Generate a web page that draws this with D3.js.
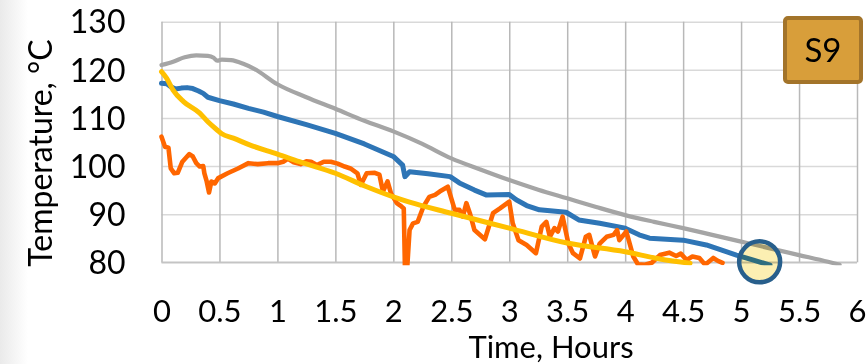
<!DOCTYPE html>
<html>
<head>
<meta charset="utf-8">
<script src="https://cdn.jsdelivr.net/npm/d3@7"></script>
<style>
  html, body { margin: 0; padding: 0; background: #fff; }
  svg { display: block; font-family: Lato, "Open Sans", sans-serif; }
</style>
</head>
<body>
<svg id="chart" width="866" height="364"></svg>
<script>
// hours vs temperature (°C)
const grayPts = [
  [0, 121], [0.1, 121.7], [0.2, 122.6], [0.3, 123], [0.4, 122.9], [0.45, 122.5],
  [0.48, 121.9], [0.52, 122.1], [0.6, 122], [0.7, 121.3], [0.8, 120.2], [1.0, 117],
  [1.25, 114.3], [1.5, 111.9], [1.75, 109.4], [2.0, 107.2], [2.25, 104.6], [2.5, 101.6],
  [2.75, 99.3], [3.0, 97.1], [3.25, 95.1], [3.5, 93.3], [3.75, 91.5], [4.0, 89.8],
  [4.25, 88.4], [4.5, 87.1], [4.75, 85.7], [5.0, 84.3], [5.25, 82.9], [5.5, 81.5],
  [5.75, 80.1], [5.85, 79.5]
];
const bluePts = [
  [0, 117.2], [0.045, 117.1], [0.08, 116.5], [0.12, 116], [0.17, 116.2], [0.22, 116.3],
  [0.27, 116.1], [0.32, 115.6], [0.36, 115.1], [0.4, 114.3], [0.5, 113.6], [0.62, 112.9],
  [0.75, 112], [0.88, 111.2], [1.0, 110.3], [1.25, 108.6], [1.5, 106.8], [1.75, 104.6],
  [2.0, 102], [2.08, 100.2], [2.1, 97.8], [2.14, 98.8], [2.3, 98.4], [2.49, 97.8],
  [2.57, 96.5], [2.7, 95], [2.8, 94], [3.0, 94.1], [3.06, 93], [3.15, 91.8], [3.26, 90.9],
  [3.49, 90.4], [3.6, 88.8], [3.78, 88.1], [4.0, 87.1], [4.12, 85.7], [4.21, 85],
  [4.5, 84.6], [4.7, 83.6], [4.96, 81.5], [5.1, 80.5], [5.25, 79.4]
];
const orangePts = [
  [0, 106.1], [0.03, 104], [0.06, 103.8], [0.08, 99.5], [0.11, 98.5], [0.14, 98.6],
  [0.18, 100.9], [0.24, 102.5], [0.27, 102], [0.3, 100.6], [0.33, 99.9], [0.36, 100],
  [0.37, 98.5], [0.39, 96.8], [0.41, 94.5], [0.43, 96.8], [0.46, 96.4], [0.49, 97.5],
  [0.57, 98.5], [0.66, 99.5], [0.75, 100.6], [0.83, 100.4], [0.92, 100.6], [1.0, 100.6],
  [1.05, 100.9], [1.09, 101.5], [1.14, 100.8], [1.2, 100.4], [1.25, 101], [1.29, 100.9],
  [1.34, 100.2], [1.4, 100.9], [1.46, 100.9], [1.52, 100.5], [1.58, 99.9], [1.63, 99.5],
  [1.69, 98.5], [1.72, 96.1], [1.77, 98.5], [1.84, 98.6], [1.88, 98.2], [1.91, 94.7],
  [1.95, 96.8], [1.98, 94.3], [2.03, 92.3], [2.07, 91.6], [2.09, 91.2], [2.1, 79],
  [2.12, 79], [2.14, 86.7], [2.17, 88.1], [2.21, 88.4], [2.26, 91.6], [2.31, 93.6],
  [2.36, 94], [2.4, 94.7], [2.47, 95.7], [2.5, 93.3], [2.53, 90.9], [2.57, 90.9],
  [2.6, 89.5], [2.63, 92.3], [2.66, 90.2], [2.7, 86.7], [2.79, 84.8], [2.86, 90.2],
  [2.92, 91.2], [3.0, 92.6], [3.03, 88.1], [3.08, 84.6], [3.15, 83.6], [3.23, 81.9],
  [3.28, 87.4], [3.32, 88.4], [3.35, 85.3], [3.39, 87.1], [3.42, 86.4], [3.46, 89.5],
  [3.51, 83.9], [3.55, 81.9], [3.61, 80.8], [3.66, 85.3], [3.69, 85.7], [3.74, 81.2],
  [3.78, 83.9], [3.84, 85.3], [3.9, 85.7], [3.93, 86.7], [3.95, 84.6], [4.01, 86.4],
  [4.07, 81.2], [4.11, 79.6], [4.17, 79.5], [4.23, 79.9], [4.3, 81.5], [4.38, 82],
  [4.44, 81.3], [4.48, 81.8], [4.53, 80.5], [4.58, 81.2], [4.64, 80.9], [4.69, 79.5],
  [4.76, 80.9], [4.8, 80.3], [4.84, 79.9]
];
const yellowPts = [
  [0, 119.6], [0.045, 118.2], [0.1, 115.8], [0.19, 113.4], [0.33, 111], [0.4, 109.2],
  [0.48, 107.5], [0.52, 106.7], [0.62, 105.8], [0.76, 104.4], [1.0, 102.5], [1.19, 100.9],
  [1.5, 98.5], [1.77, 95.7], [2.0, 93.6], [2.14, 92.5], [2.5, 90.2], [3.0, 87.1],
  [3.5, 84], [4.0, 82.2], [4.3, 80.7], [4.56, 79.8]
];

const xTicks = d3.range(0, 6.01, 0.5);
const yTicks = [80, 90, 100, 110, 120, 130];
const highlight = [5.16, 80.1];
const badgeText = 'S9';

const X0 = 161.5, X1 = 857, Y0 = 262.3, Y1 = 21.7;

const svg = d3.select('#chart');

// faint grey edge on the left, like the slide behind the chart
const grad = svg.append('defs').append('linearGradient').attr('id', 'edge');
grad.append('stop').attr('offset', '0%').attr('stop-color', '#eaeaea');
grad.append('stop').attr('offset', '100%').attr('stop-color', '#ffffff');
svg.append('rect').attr('x', 0).attr('y', 0).attr('width', 28).attr('height', 364)
  .attr('fill', 'url(#edge)');

svg.select('defs').append('clipPath').attr('id', 'plot')
  .append('rect').attr('x', X0 - 3).attr('y', Y1 - 3)
  .attr('width', X1 - X0 + 6).attr('height', Y0 - Y1 + 6);

const x = d3.scaleLinear().domain([0, 6]).range([X0, X1]);
const y = d3.scaleLinear().domain([80, 130]).range([Y0, Y1]);

// horizontal grid
svg.append('g')
  .attr('transform', `translate(${X0},0)`)
  .call(d3.axisLeft(y).tickValues(yTicks).tickSize(-(X1 - X0)).tickFormat(''))
  .call(g => g.select('.domain').remove())
  .call(g => g.selectAll('.tick line').attr('stroke', '#d9d9d9').attr('stroke-width', 1.5));

// vertical grid
svg.append('g')
  .attr('transform', `translate(0,${Y0})`)
  .call(d3.axisBottom(x).tickValues(xTicks).tickSize(-(Y0 - Y1)).tickFormat(''))
  .call(g => g.select('.domain').remove())
  .call(g => g.selectAll('.tick line').attr('stroke', '#b8b8b8').attr('stroke-width', 1.5));

// bottom axis line
svg.append('line')
  .attr('x1', X0).attr('x2', X1).attr('y1', Y0).attr('y2', Y0)
  .attr('stroke', '#c4c4c4').attr('stroke-width', 1.8);

// tick labels
svg.append('g')
  .attr('transform', `translate(0,${Y0})`)
  .call(d3.axisBottom(x).tickValues(xTicks).tickSize(0).tickPadding(0)
    .tickFormat(d => d3.format('~g')(d)))
  .call(g => g.select('.domain').remove())
  .call(g => g.selectAll('text').attr('font-size', 31).attr('font-family', 'Lato')
    .attr('fill', '#000').attr('dy', null).attr('y', 59.5));

svg.append('g')
  .attr('transform', `translate(${X0},0)`)
  .call(d3.axisLeft(y).tickValues(yTicks).tickSize(0).tickPadding(36))
  .call(g => g.select('.domain').remove())
  .call(g => g.selectAll('text').attr('font-size', 32).attr('font-family', 'Lato')
    .attr('fill', '#000').attr('dy', '0.35em'));

// axis titles
svg.append('text')
  .attr('x', 551).attr('y', 357.5)
  .attr('text-anchor', 'middle')
  .attr('font-size', 31)
  .text('Time, Hours');

svg.append('text')
  .attr('transform', 'translate(52,153) rotate(-90)')
  .attr('text-anchor', 'middle')
  .attr('font-size', 32)
  .text('Temperature, °C');

// series
const line = d3.line().x(d => x(d[0])).y(d => y(d[1]));
const smooth = d3.line().x(d => x(d[0])).y(d => y(d[1])).curve(d3.curveMonotoneX);

const series = [
  { pts: grayPts, color: '#a5a5a5', gen: smooth, w: 4.2 },
  { pts: bluePts, color: '#2e75b6', gen: line, w: 5 },
  { pts: orangePts, color: '#ff6600', gen: line, w: 4.6 },
  { pts: yellowPts, color: '#ffc000', gen: smooth, w: 5 },
];

const plot = svg.append('g').attr('clip-path', 'url(#plot)');
plot.selectAll('path')
  .data(series)
  .join('path')
  .attr('d', d => d.gen(d.pts))
  .attr('fill', 'none')
  .attr('stroke', d => d.color)
  .attr('stroke-width', d => d.w)
  .attr('stroke-linejoin', 'round')
  .attr('stroke-linecap', 'round');

// highlight marker
svg.append('circle')
  .attr('cx', x(highlight[0])).attr('cy', y(highlight[1]))
  .attr('r', 20.5)
  .attr('fill', '#fcefb2')
  .style('mix-blend-mode', 'multiply');
svg.append('circle')
  .attr('cx', x(highlight[0])).attr('cy', y(highlight[1]))
  .attr('r', 20.5)
  .attr('fill', 'none')
  .attr('stroke', '#285f8c')
  .attr('stroke-width', 4.5);

// badge
svg.append('rect')
  .attr('x', 785).attr('y', 18).attr('width', 76).attr('height', 64)
  .attr('rx', 3)
  .attr('fill', '#d89e3a')
  .attr('stroke', '#a3742a')
  .attr('stroke-width', 4);
svg.append('text')
  .attr('x', 823).attr('y', 62)
  .attr('text-anchor', 'middle')
  .attr('font-size', 33)
  .text(badgeText);
</script>
</body>
</html>
